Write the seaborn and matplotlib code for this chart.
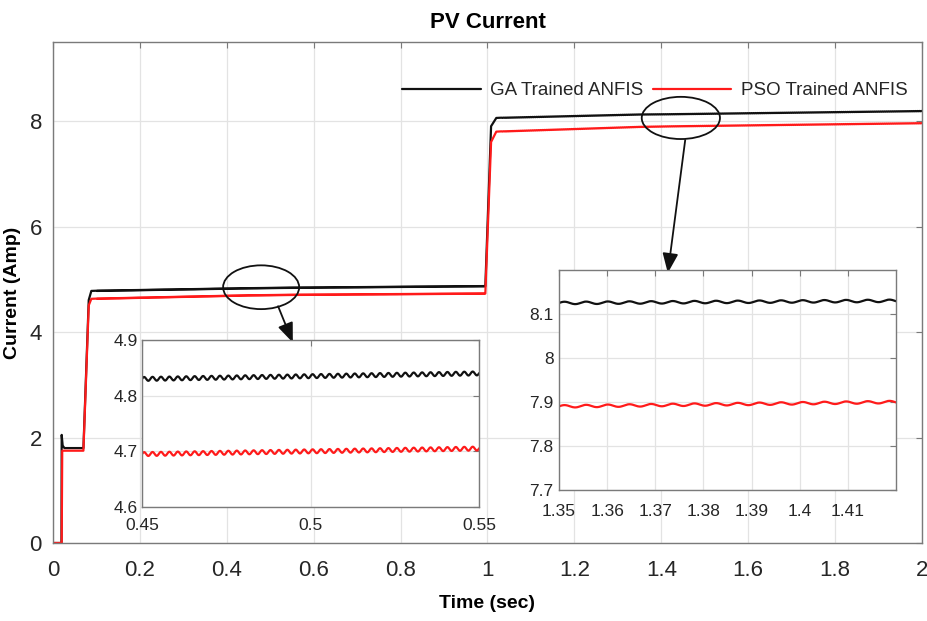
import numpy as np
import pandas as pd
import seaborn as sns
import matplotlib
matplotlib.use("Agg")
import matplotlib.pyplot as plt
from matplotlib.patches import Ellipse
from matplotlib import font_manager

# --- simulated PV current traces (breakpoints of the two controllers) ---
t_ga = [0.0, 0.0195, 0.0200, 0.0220, 0.0260, 0.0700, 0.0820, 0.0880,
        0.45, 0.55, 0.995, 1.008, 1.020, 1.35, 1.42, 2.0]
i_ga = [0.0, 0.0, 2.05, 1.85, 1.80, 1.80, 4.60, 4.78,
        4.830, 4.840, 4.870, 7.90, 8.06, 8.125, 8.130, 8.19]

t_pso = [0.0, 0.0200, 0.0210, 0.0260, 0.0700, 0.0820, 0.0880,
         0.45, 0.55, 0.995, 1.008, 1.020, 1.35, 1.42, 2.0]
i_pso = [0.0, 0.0, 1.75, 1.75, 1.75, 4.50, 4.63,
         4.695, 4.705, 4.730, 7.60, 7.80, 7.890, 7.900, 7.96]

# switching ripple on the converter current (amplitude in A, period in s)
ripple_amp = [0.0035, 0.0028]
ripple_period = [0.0025, 0.0045]

series_names = ["GA Trained ANFIS", "PSO Trained ANFIS"]
series_colors = ["#111111", "#ff1a1a"]

x_ticks = [0, 0.2, 0.4, 0.6, 0.8, 1, 1.2, 1.4, 1.6, 1.8, 2]
y_ticks = [0, 2, 4, 6, 8]
zoom1_xticks = [0.45, 0.5, 0.55]
zoom1_yticks = [4.6, 4.7, 4.8, 4.9]
zoom2_xticks = [1.35, 1.36, 1.37, 1.38, 1.39, 1.4, 1.41]
zoom2_yticks = [7.7, 7.8, 7.9, 8.0, 8.1]


def trace(tb, ib):
    t = np.linspace(0, 2, 40001)
    i = np.interp(t, tb, ib)
    low = (t > 0.1) & (t < 0.995)
    high = t > 1.03
    i = i + np.where(low, ripple_amp[0] * np.sin(2 * np.pi * t / ripple_period[0]), 0)
    i = i + np.where(high, ripple_amp[1] * np.sin(2 * np.pi * t / ripple_period[1]), 0)
    return t, i


t1, y1 = trace(t_ga, i_ga)
t2, y2 = trace(t_pso, i_pso)
df = pd.concat([
    pd.DataFrame({"Time": t1, "Current": y1, "Method": series_names[0]}),
    pd.DataFrame({"Time": t2, "Current": y2, "Method": series_names[1]}),
])

sns.set_theme(style="white")
names = {f.name for f in font_manager.fontManager.ttflist}
base_font = "Liberation Sans Narrow" if "Liberation Sans Narrow" in names else "Liberation Sans"
plt.rcParams["font.family"] = [base_font, "DejaVu Sans"]

frame_col = "#7a7a7a"
grid_col = "#e3e3e3"
text_col = "#262626"


def style_axes(ax, size):
    for s in ax.spines.values():
        s.set_color(frame_col)
        s.set_linewidth(1.0)
        s.set_visible(True)
    ax.tick_params(direction="in", length=4, width=0.8, color=frame_col,
                   labelsize=size, labelcolor=text_col, top=True, right=True)
    ax.grid(True, color=grid_col, linewidth=0.9)
    ax.set_axisbelow(True)


fig = plt.figure(figsize=(9.28, 6.21), dpi=100)
ax = fig.add_axes([53 / 928, 1 - 543 / 621, (922 - 53) / 928, (543 - 42) / 621])
sns.lineplot(data=df, x="Time", y="Current", hue="Method", palette=series_colors,
             estimator=None, sort=False, linewidth=1.6, ax=ax)
ax.set_xlim(0, 2)
ax.set_ylim(0, 9.5)
ax.set_xticks(x_ticks)
ax.set_xticklabels([f"{v:g}" for v in x_ticks])
ax.set_yticks(y_ticks)
style_axes(ax, 16)
ax.tick_params(axis="x", pad=12)
ax.tick_params(axis="y", pad=8)
ax.set_title("PV Current", fontsize=16, fontweight="bold", color="#000000", pad=10)
ax.set_xlabel("Time (sec)", fontsize=14, fontweight="bold", color="#000000", labelpad=10)
ax.set_ylabel("Current (Amp)", fontsize=14, fontweight="bold", color="#000000", labelpad=6)
leg = ax.legend(loc="upper right", bbox_to_anchor=(0.992, 0.935), ncol=2, frameon=False,
                fontsize=13.5, handlelength=4.2, columnspacing=0.5, handletextpad=0.5,
                borderaxespad=0)
for txt in leg.get_texts():
    txt.set_color(text_col)

# highlight ellipses with arrows to the zoomed views
ax.add_patch(Ellipse((0.479, 4.85), 0.175, 0.83, fill=False, edgecolor="#111111",
                     linewidth=1.3, zorder=5))
ax.add_patch(Ellipse((1.445, 8.06), 0.18, 0.80, fill=False, edgecolor="#111111",
                     linewidth=1.3, zorder=5))
arrow = dict(arrowstyle="-|>,head_length=1.0,head_width=0.4", color="#111111",
             linewidth=1.3, shrinkA=0, shrinkB=0)
ax.annotate("", xy=(0.552, 3.80), xytext=(0.518, 4.49), arrowprops=arrow, zorder=6)
ax.annotate("", xy=(1.415, 5.12), xytext=(1.455, 7.64), arrowprops=arrow, zorder=6)

# zoom 1
ax1 = fig.add_axes([142 / 928, 1 - 507 / 621, (479 - 142) / 928, (507 - 340) / 621])
sns.lineplot(data=df, x="Time", y="Current", hue="Method", palette=series_colors,
             estimator=None, sort=False, linewidth=1.6, ax=ax1, legend=False)
ax1.set_xlim(0.45, 0.55)
ax1.set_ylim(4.6, 4.9)
ax1.set_xticks(zoom1_xticks)
ax1.set_xticklabels([f"{v:g}" for v in zoom1_xticks])
ax1.set_yticks(zoom1_yticks)
ax1.set_yticklabels([f"{v:g}" for v in zoom1_yticks])
ax1.set_xlabel("")
ax1.set_ylabel("")
style_axes(ax1, 12.5)
ax1.tick_params(axis="x", pad=8)
ax1.tick_params(axis="y", pad=3)
ax1.set_facecolor("white")

# zoom 2
ax2 = fig.add_axes([559 / 928, 1 - 490 / 621, (896 - 559) / 928, (490 - 270) / 621])
sns.lineplot(data=df, x="Time", y="Current", hue="Method", palette=series_colors,
             estimator=None, sort=False, linewidth=1.6, ax=ax2, legend=False)
ax2.set_xlim(1.35, 1.42)
ax2.set_ylim(7.7, 8.2)
ax2.set_xticks(zoom2_xticks)
ax2.set_xticklabels([f"{v:g}" for v in zoom2_xticks])
ax2.set_yticks(zoom2_yticks)
ax2.set_yticklabels([f"{v:g}" for v in zoom2_yticks])
ax2.set_xlabel("")
ax2.set_ylabel("")
style_axes(ax2, 12.5)
ax2.tick_params(axis="x", pad=10)
ax2.tick_params(axis="y", pad=4)
ax2.set_facecolor("white")

fig.savefig("out.png", dpi=100, facecolor="white")
